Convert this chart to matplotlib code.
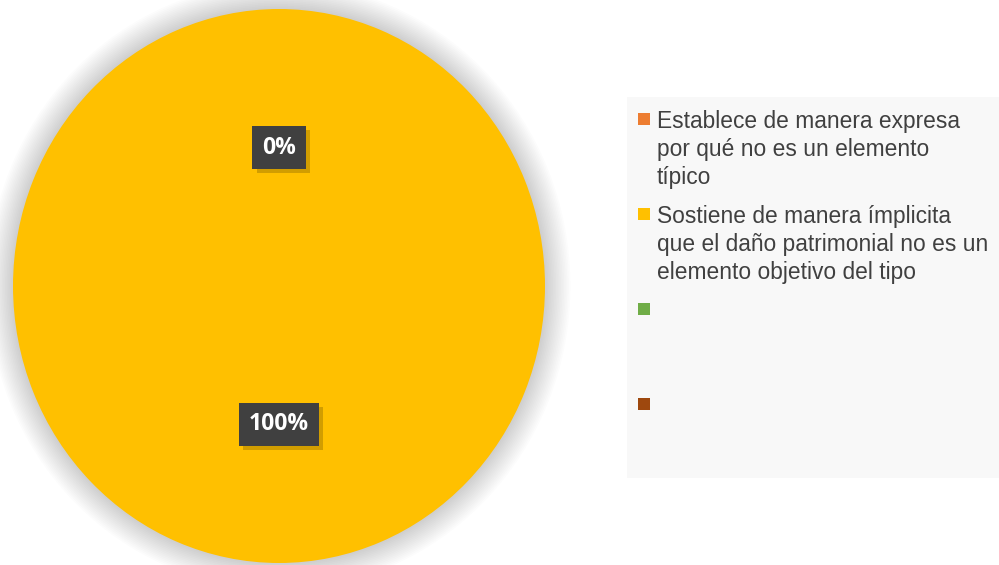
import matplotlib

matplotlib.use("Agg")
import matplotlib.pyplot as plt
from matplotlib.patches import Ellipse, Rectangle
from matplotlib import patheffects

# data
categories = [
    "Establece de manera expresa\npor qué no es un elemento\ntípico",
    "Sostiene de manera ímplicita\nque el daño patrimonial no es un\nelemento objetivo del tipo",
    "",
    "",
]
values = [0, 100, 0, 0]
show_label = [True, True, False, False]
colors = ["#ED7D31", "#FFC000", "#70AD47", "#9E480E"]

W, H = 999, 565
fig = plt.figure(figsize=(W / 100, H / 100), dpi=100)
fig.patch.set_facecolor("white")

# pie area (slightly taller than wide, like the source)
ax = fig.add_axes([13 / W, 2 / H, 532 / W, 554 / H])

# soft glow shadow around the pie
n_glow = 16
for k in range(n_glow):
    s = 1.0 + 0.006 * (k + 1)
    ax.add_patch(Ellipse((0, 0), 2 * s, 2 * s, facecolor="black",
                         edgecolor="none", alpha=0.011, zorder=0, clip_on=False))

wedges, texts, autotexts = ax.pie(
    values,
    colors=colors,
    startangle=90,
    counterclock=False,
    radius=1.0,
    autopct="%1.0f%%",
    pctdistance=0.5,
    wedgeprops={"linewidth": 0},
    textprops={"fontsize": 16.5, "fontweight": "bold", "color": "white",
               "family": ["Open Sans", "DejaVu Sans"]},
)
for w in wedges:
    w.set_zorder(2)
for t, show in zip(autotexts, show_label):
    if not show:
        t.set_visible(False)
        continue
    t.set_zorder(5)
    t.set_bbox({"boxstyle": "square,pad=0.42", "facecolor": "#404040", "edgecolor": "none"})
    t.get_bbox_patch().set_path_effects([
        patheffects.withSimplePatchShadow(offset=(3, -3), shadow_rgbFace="black", alpha=0.18)
    ])

ax.set_aspect("auto")
ax.set_xlim(-1, 1)
ax.set_ylim(-1, 1)
ax.axis("off")


# legend panel
def fx(px):
    return px / W


def fy(py):
    return 1 - py / H


fig.patches.append(Rectangle((fx(627), fy(478)), fx(999) - fx(627), fy(97) - fy(478),
                             transform=fig.transFigure, facecolor="#f8f8f8",
                             edgecolor="none", zorder=0))

entry_step = 95
for i, (lab, col) in enumerate(zip(categories, colors)):
    top = 113 + entry_step * i
    fig.patches.append(Rectangle((fx(638), fy(top + 12)), 12 / W, 12 / H,
                                 transform=fig.transFigure, facecolor=col,
                                 edgecolor="none", zorder=2))
    if lab:
        fig.text(fx(657), fy(top - 3), lab, ha="left", va="top",
                 fontsize=16.4, color="#404040", linespacing=1.28,
                 family=["Liberation Sans", "DejaVu Sans"])

fig.savefig("out.png", dpi=100, facecolor="white")
